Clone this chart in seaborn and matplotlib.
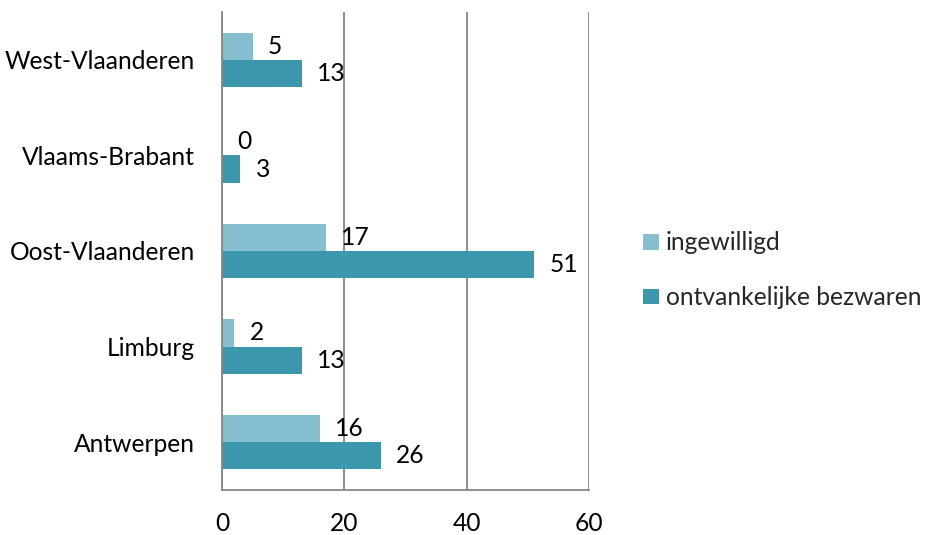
import matplotlib
matplotlib.use("Agg")
import matplotlib.pyplot as plt
import seaborn as sns
import pandas as pd
from matplotlib.ticker import FixedLocator
from matplotlib.patches import Patch

provinces = ["West-Vlaanderen", "Vlaams-Brabant", "Oost-Vlaanderen", "Limburg", "Antwerpen"]
ingewilligd = [5, 0, 17, 2, 16]
ontvankelijk = [13, 3, 51, 13, 26]
series = ["ingewilligd", "ontvankelijke bezwaren"]
colors = ["#85bfcf", "#3c97ad"]
x_ticks = [0, 20, 40, 60]

df = pd.DataFrame({
    "provincie": provinces * 2,
    "reeks": [series[0]] * len(provinces) + [series[1]] * len(provinces),
    "aantal": ingewilligd + ontvankelijk,
})

sns.set_theme(style="white")
plt.rcParams["font.family"] = ["Lato", "DejaVu Sans"]
FS = 17.7

fig = plt.figure(figsize=(9.27, 5.35), dpi=100)
ax = fig.add_axes([0.2395, 0.0841, 0.3959, 0.8935])

sns.barplot(data=df, y="provincie", x="aantal", hue="reeks", order=provinces,
            hue_order=series, palette=colors, orient="h", width=0.57,
            saturation=1, ax=ax, legend=False, edgecolor="none")

ax.set_xlim(0, 60)
ax.set_ylim(len(provinces) - 0.5, -0.5)
ax.set_xlabel("")
ax.set_ylabel("")

grey = "#868686"
ax.set_xticks(x_ticks)
ax.set_xticklabels([str(t) for t in x_ticks], fontsize=FS, color="black")
ax.xaxis.grid(True, color=grey, linewidth=1.3)
ax.set_axisbelow(True)
ax.tick_params(axis="x", direction="out", length=7, width=1.3, color=grey, pad=8.5)

ax.yaxis.set_minor_locator(FixedLocator([i - 0.5 for i in range(len(provinces) + 1)]))
ax.tick_params(axis="y", which="major", length=0, pad=19.5, labelsize=FS, labelcolor="black")
ax.tick_params(axis="y", which="minor", direction="out", length=7, width=1.3, color=grey)

for side in ["top", "right"]:
    ax.spines[side].set_visible(False)
for side in ["left", "bottom"]:
    ax.spines[side].set_color(grey)
    ax.spines[side].set_linewidth(1.3)

for container, vals in zip(ax.containers, [ingewilligd, ontvankelijk]):
    ax.bar_label(container, labels=[str(v) for v in vals], padding=11, fontsize=FS,
                 color="black")

handles = [Patch(facecolor=c, edgecolor="none") for c in colors]
fig.legend(handles, series, loc="center left", bbox_to_anchor=(0.694, 0.495),
           frameon=False, fontsize=FS, handlelength=0.62, handleheight=0.62,
           handletextpad=0.3, labelspacing=1.3, borderaxespad=0, borderpad=0)

fig.savefig("out.png", dpi=100)
